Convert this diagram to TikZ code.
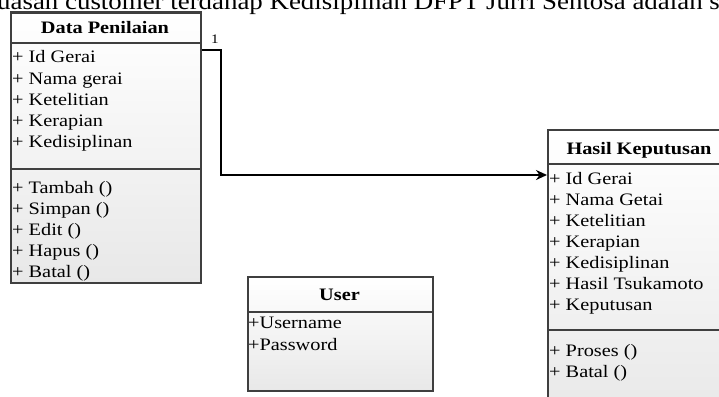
\documentclass[tikz,border=0pt]{standalone}
\usepackage{fontspec}
\setmainfont{Liberation Serif}[FakeStretch=1.16]
\newfontfamily\captionfont{Liberation Serif}[FakeStretch=1.12]
\usetikzlibrary{arrows.meta}
\definecolor{edge}{HTML}{3F3F3F}
\tikzset{
  classbox/.style={draw=edge, line width=2.2pt, top color=white, bottom color=black!9,
                   rectangle, inner sep=0pt, anchor=north west},
  sepline/.style={draw=edge, line width=2.2pt},
  member/.style={anchor=base west, inner sep=0pt, font=\fontsize{17.5}{21}\selectfont},
  title/.style={anchor=base, inner sep=0pt, font=\fontsize{17.5}{21}\selectfont\bfseries},
  conn/.style={draw=black, line width=2.4pt, -{Stealth[length=11pt,width=10pt]}},
  mult/.style={anchor=base, inner sep=0pt, font=\fontsize{13}{13}\selectfont},
}
\begin{document}
\begin{tikzpicture}[x=1pt,y=-1pt]
\useasboundingbox (0,0) rectangle (719,396);
\clip (0,0) rectangle (719,396);

% running sentence above the diagram
\node[anchor=base west, inner sep=0pt, font=\captionfont\fontsize{24}{24}\selectfont] (caption) at (-3,9.5)
  {uasan customer terdahap Kedisiplinan DFPT Jurri Sentosa adalah se};

% class: Data Penilaian
\node[classbox, minimum width=190pt, minimum height=270pt] (dp) at (10,11.5) {};
\draw[sepline] (10,43) -- (200,43);
\draw[sepline] (10,169) -- (200,169);
\node[title] (dpt) at (105,34) {Data Penilaian};
\node[member] (dp1) at (12,63) {+ Id Gerai};
\node[member] (dp2) at (12,84) {+ Nama gerai};
\node[member] (dp3) at (12,105) {+ Ketelitian};
\node[member] (dp4) at (12,126) {+ Kerapian};
\node[member] (dp5) at (12,147) {+ Kedisiplinan};
\node[member] (dp6) at (12,193) {+ Tambah ()};
\node[member] (dp7) at (12,214) {+ Simpan ()};
\node[member] (dp8) at (12,235) {+ Edit ()};
\node[member] (dp9) at (12,256) {+ Hapus ()};
\node[member] (dp10) at (12,277) {+ Batal ()};

% class: Hasil Keputusan
\node[classbox, minimum width=184pt, minimum height=290pt] (hk) at (547,129) {};
\draw[sepline] (547,164) -- (731,164);
\draw[sepline] (547,330) -- (731,330);
\node[title] (hkt) at (639,154) {Hasil Keputusan};
\node[member] (hk1) at (549,184) {+ Id Gerai};
\node[member] (hk2) at (549,205) {+ Nama Getai};
\node[member] (hk3) at (549,226) {+ Ketelitian};
\node[member] (hk4) at (549,247) {+ Kerapian};
\node[member] (hk5) at (549,268) {+ Kedisiplinan};
\node[member] (hk6) at (549,289) {+ Hasil Tsukamoto};
\node[member] (hk7) at (549,310) {+ Keputusan};
\node[member] (hk8) at (549,356) {+ Proses ()};
\node[member] (hk9) at (549,377) {+ Batal ()};

% class: User
\node[classbox, minimum width=185pt, minimum height=114pt] (us) at (247,276) {};
\draw[sepline] (247,312) -- (432,312);
\node[title] (ust) at (339.5,300) {User};
\node[member] (us1) at (248,328) {+Username};
\node[member] (us2) at (248,350) {+Password};

% association Data Penilaian -> Hasil Keputusan
\draw[conn] ([yshift=-38.5pt]dp.north east) -- ++(19,0) |- ([yshift=-46pt]hk.north west);
\node[mult] (m1) at (215,44) {1};
\end{tikzpicture}
\end{document}
